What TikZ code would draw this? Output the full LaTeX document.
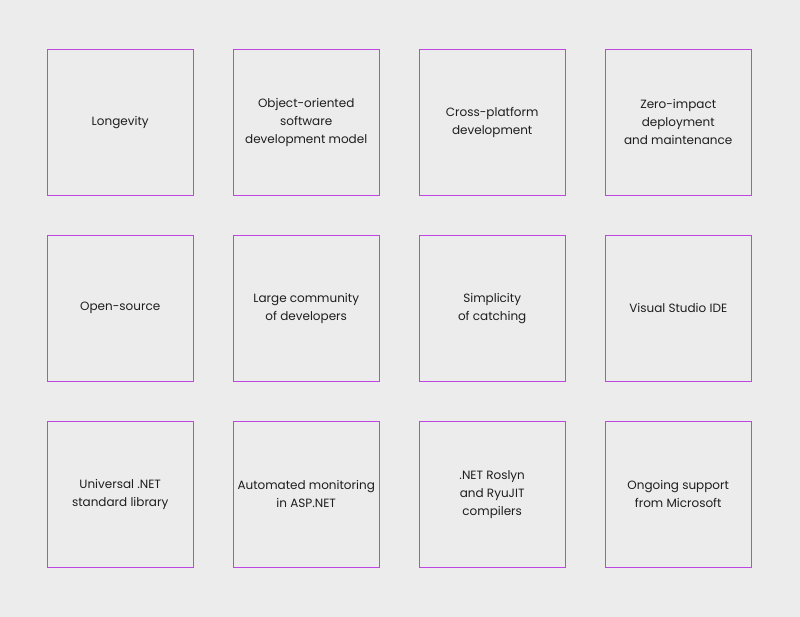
\documentclass[tikz,border=0pt]{standalone}
\usepackage{fontspec}
\setmainfont{Poppins}
\definecolor{boxc}{RGB}{190,70,225}
\definecolor{bgc}{RGB}{236,236,236}
\definecolor{txt}{RGB}{30,30,30}
\begin{document}
\begin{tikzpicture}[x=1pt,y=-1pt,
  cell/.style={minimum width=146pt,minimum height=146pt,anchor=north west,align=center,font=\fontsize{12}{18}\selectfont,text=txt},
  frame/.style={draw=boxc,color=boxc,line width=0.9pt}]
\fill[bgc] (0,0) rectangle (800,617);
\useasboundingbox (0,0) rectangle (800,617);
\node[cell] (a1) at (47,49) {Longevity};
\node[cell] (a2) at (233,49) {Object-oriented\\software\\development model};
\node[cell] (a3) at (419,49) {Cross-platform\\development};
\node[cell] (a4) at (605,49) {Zero-impact\\deployment\\and maintenance};
\node[cell] (b1) at (47,235) {Open-source};
\node[cell] (b2) at (233,235) {Large community\\of developers};
\node[cell] (b3) at (419,235) {Simplicity\\of catching};
\node[cell] (b4) at (605,235) {Visual Studio IDE};
\node[cell] (c1) at (47,421) {Universal .NET\\standard library};
\node[cell] (c2) at (233,421) {Automated monitoring\\in ASP.NET};
\node[cell] (c3) at (419,421) {.NET Roslyn\\and RyuJIT\\compilers};
\node[cell] (c4) at (605,421) {Ongoing support\\from Microsoft};
\foreach \n in {a1,a2,a3,a4,b1,b2,b3,b4,c1,c2,c3,c4}
  \draw[frame] (\n.north west) rectangle (\n.south east);
\end{tikzpicture}
\end{document}
